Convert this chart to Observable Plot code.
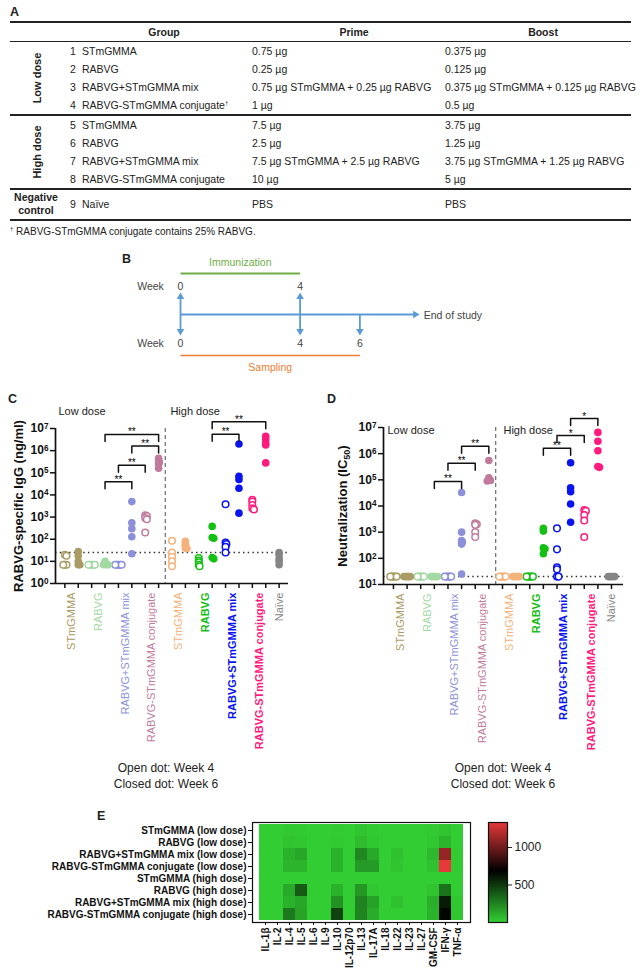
<!DOCTYPE html>
<html><head><meta charset="utf-8">
<script src="https://cdn.jsdelivr.net/npm/d3@7"></script>
<script src="https://cdn.jsdelivr.net/npm/@observablehq/plot@0.6"></script>
<style>
html,body{margin:0;padding:0;background:#fff;}
#fig{position:relative;width:640px;height:977px;overflow:hidden;font-family:"Liberation Sans",Arial,Helvetica,sans-serif;color:#222;}
.t{position:absolute;white-space:nowrap;line-height:1;}
.r{position:absolute;background:#222;left:10px;width:621px;}
.p{position:absolute;}
.p svg{overflow:visible;display:block;}
</style></head><body><div id="fig"></div>
<script>
// ================= DATA =================
// Panel A – study design table
const tableHeader = ["Group", "Prime", "Boost"];
const tableNumbers = [1, 2, 3, 4, 5, 6, 7, 8, 9];
const tableGroups = ["STmGMMA", "RABVG", "RABVG+STmGMMA mix", "RABVG-STmGMMA conjugate", "STmGMMA", "RABVG", "RABVG+STmGMMA mix", "RABVG-STmGMMA conjugate", "Naïve"];
const tablePrime = ["0.75 µg", "0.25 µg", "0.75 µg STmGMMA + 0.25 µg RABVG", "1 µg", "7.5 µg", "2.5 µg", "7.5 µg STmGMMA + 2.5 µg RABVG", "10 µg", "PBS"];
const tableBoost = ["0.375 µg", "0.125 µg", "0.375 µg STmGMMA + 0.125 µg RABVG", "0.5 µg", "3.75 µg", "1.25 µg", "3.75 µg STmGMMA + 1.25 µg RABVG", "5 µg", "PBS"];
const tableSections = ["Low dose", "High dose", "Negative control"];
const footnote = "RABVG-STmGMMA conjugate contains 25% RABVG.";

// Panel B – timeline (weeks)
const immunizationWeeks = [0, 4];
const samplingWeeks = [0, 4, 6];
const endOfStudyWeek = 8;

// Panels C & D – groups (9) ; week-4 (open) values for groups 1-8, week-6 (closed) for groups 1-9
const dotGroups = ["STmGMMA", "RABVG", "RABVG+STmGMMA mix", "RABVG-STmGMMA conjugate", "STmGMMA", "RABVG", "RABVG+STmGMMA mix", "RABVG-STmGMMA conjugate", "Naïve"];
const doseLabels = ["Low dose", "High dose"];
const legendLines = ["Open dot: Week 4", "Closed dot: Week 6"];

const iggWeek4 = [
  [20, 18, 7, 7, 7],
  [7, 7, 7, 7, 7],
  [7, 7, 7, 7, 7],
  [1200, 1100, 900, 800, 200],
  [85, 25, 16, 10, 6],
  [14, 11, 9, 7, 6],
  [3800, 70, 60, 45, 25],
  [6000, 5000, 3500, 2500, 2200]
];
const iggWeek6 = [
  [28, 18, 10, 7, 7],
  [10, 8, 7, 7, 7],
  [5000, 550, 300, 130, 22],
  [450000, 350000, 300000, 250000, 160000],
  [80, 60, 50, 40, 38],
  [380, 120, 110, 15, 13],
  [2000000, 70000, 50000, 20000, 1500],
  [4500000, 3200000, 2200000, 1800000, 280000],
  [25, 20, 13, 10, 7]
];
const iggLOD = 25;
const iggBrackets = [
  {from: [1, 6], to: [3, 6], level: 5.4e6, mark: "**"},
  {from: [2, 6], to: [3, 6], level: 1.6e6, mark: "**"},
  {from: [2, 4], to: [3, 4], level: 2.2e5, mark: "**"},
  {from: [1, 6], to: [2, 6], level: 3.9e4, mark: "**"},
  {from: [5, 6], to: [7, 6], level: 2.0e7, mark: "**"},
  {from: [5, 6], to: [6, 6], level: 5.5e6, mark: "**"}
];

const neutWeek4 = [
  [20, 20, 20, 20, 20],
  [20, 20, 20, 20, 20],
  [20, 20, 20, 20, 20],
  [2200, 2000, 1900, 1000, 650],
  [20, 20, 20, 20, 20],
  [20, 20, 20, 20, 20],
  [1400, 220, 45, 38, 20, 20],
  [7000, 6500, 4500, 2800, 650]
];
const neutWeek6 = [
  [20, 20, 20, 20, 20],
  [20, 20, 20, 20, 20],
  [33000, 1000, 480, 420, 350, 25],
  [550000, 120000, 100000, 95000, 90000],
  [20, 20, 20, 20, 20],
  [1400, 1100, 250, 230, 150],
  [450000, 50000, 35000, 12000, 2400],
  [6500000, 3000000, 1300000, 320000, 300000],
  [20, 20, 20, 20, 20]
];
const neutLOD = 20;
const neutBrackets = [
  {from: [2, 6], to: [3, 6], level: 1.9e6, mark: "**"},
  {from: [2, 4], to: [3, 4], level: 4.3e5, mark: "**"},
  {from: [1, 6], to: [2, 6], level: 8.7e4, mark: "**"},
  {from: [6, 6], to: [7, 6], level: 2.2e7, mark: "*"},
  {from: [6, 4], to: [7, 4], level: 4.9e6, mark: "*"},
  {from: [5, 6], to: [6, 6], level: 1.6e6, mark: "**"}
];

// Panel E – cytokine heatmap
const cytokines = ["IL-1β", "IL-2", "IL-4", "IL-5", "IL-6", "IL-9", "IL-10", "IL-12p70", "IL-13", "IL-17A", "IL-18", "IL-22", "IL-23", "IL-27", "GM-CSF", "IFN-γ", "TNF-α"];
const heatRows = ["STmGMMA (low dose)", "RABVG (low dose)", "RABVG+STmGMMA mix (low dose)", "RABVG-STmGMMA conjugate (low dose)", "STmGMMA (high dose)", "RABVG (high dose)", "RABVG+STmGMMA mix (high dose)", "RABVG-STmGMMA conjugate (high dose)"];
const cytokineLevels = [
  [0, 0, 15, 10, 0, 0, 5, 0, 25, 10, 0, 0, 0, 0, 10, 30, 0],
  [0, 0, 30, 20, 0, 0, 10, 0, 60, 20, 0, 0, 0, 0, 20, 80, 0],
  [0, 0, 90, 130, 0, 0, 90, 0, 230, 120, 0, 40, 0, 0, 70, 1100, 10],
  [0, 0, 80, 80, 0, 0, 90, 0, 170, 170, 0, 30, 0, 0, 40, 1330, 10],
  [0, 0, 0, 0, 0, 0, 0, 0, 0, 0, 0, 0, 0, 0, 0, 0, 0],
  [0, 0, 120, 380, 0, 0, 90, 0, 180, 20, 0, 0, 0, 0, 30, 300, 0],
  [0, 0, 90, 130, 0, 0, 200, 0, 250, 150, 0, 40, 0, 0, 100, 590, 20],
  [0, 0, 280, 140, 0, 0, 460, 0, 240, 110, 0, 0, 0, 0, 90, 660, 20]
];
const colorbarDomain = [0, 680, 1333];
const colorbarTicks = [500, 1000];

// ================= STYLE CONSTANTS =================
const FONT = '"Liberation Sans", Arial, Helvetica, sans-serif';
const groupColors = ["#a99b64", "#a3d9a3", "#8c90d8", "#c07b9c", "#f4b27a", "#14c014", "#0a14f0", "#ff1a7e", "#858585"];
const heatColors = ["#32cd32", "#000000", "#e8393a"];
const fig = document.getElementById("fig");
const SVGNS = "http://www.w3.org/2000/svg";

function put(html, x, y, o = {}) {
  const d = document.createElement("div");
  d.className = "t";
  d.innerHTML = html;
  const ax = o.anchor === "middle" ? "-50%" : o.anchor === "end" ? "-100%" : "0";
  d.style.left = x + "px";
  d.style.top = y + "px";
  d.style.fontSize = (o.size || 10.5) + "px";
  d.style.fontWeight = o.weight || "normal";
  if (o.color) d.style.color = o.color;
  if (o.lh) d.style.lineHeight = o.lh;
  if (o.align) d.style.textAlign = o.align;
  d.style.transform = `translate(${ax},-50%)` + (o.rotate ? ` rotate(${o.rotate}deg)` : "");
  fig.appendChild(d);
  return d;
}
function rule(y, h) {
  const d = document.createElement("div");
  d.className = "r";
  d.style.top = (y - h / 2) + "px";
  d.style.height = h + "px";
  fig.appendChild(d);
}
function place(svg, x, y, w) {
  const d = document.createElement("div");
  d.className = "p";
  d.style.left = x + "px";
  d.style.top = y + "px";
  d.style.width = w + "px";
  d.appendChild(svg);
  fig.appendChild(d);
}

// ================= PANEL LETTERS =================
put("A", 10, 12, {size: 12.5, weight: "bold"});
put("B", 122, 259, {size: 12.5, weight: "bold"});
put("C", 8, 399, {size: 12.5, weight: "bold"});
put("D", 327, 399, {size: 12.5, weight: "bold"});
put("E", 97, 816, {size: 12.5, weight: "bold"});

// ================= PANEL A =================
const headerX = [164, 354, 543];
tableHeader.forEach((h, i) => put(h, headerX[i], 32, {anchor: "middle", weight: "bold"}));
rule(22, 1.6); rule(41.5, 1); rule(115, 1.2); rule(189, 2.4); rule(220, 1.6);
const rowY = [51, 69, 87, 105, 125, 143, 161, 179, 204];
tableNumbers.forEach((n, i) => {
  put(String(n), 70, rowY[i]);
  put(tableGroups[i] + (i === 3 ? '<sup style="font-size:6px;vertical-align:4px">†</sup>' : ""), 82, rowY[i]);
  put(tablePrime[i], 252, rowY[i]);
  put(tableBoost[i], 445, rowY[i]);
});
put(tableSections[0], 37, 78, {anchor: "middle", weight: "bold", rotate: -90, size: 11});
put(tableSections[1], 37, 152, {anchor: "middle", weight: "bold", rotate: -90, size: 11});
put("Negative<br>control", 36, 204, {anchor: "middle", weight: "bold", lh: "1.2", align: "center"});
put('<sup style="font-size:6px;vertical-align:4px">†</sup> ' + footnote, 10, 231, {size: 10});

// ================= PANEL B =================
{
  const blue = "#5b9bd5", green = "#70ad47", orange = "#ed7d31";
  const lane = {imm: 12, immLine: 23, wk1: 36, upTip: 42, axis: 64, downTip: 85, wk2: 93, sampLine: 105, samp: 117};
  const tipOff = 4.4;
  const B = Plot.plot({
    width: 640, height: 125, margin: 0,
    x: {domain: [0, endOfStudyWeek], range: [180, 180 + endOfStudyWeek * 29.9], axis: null},
    y: {domain: [0, 125], range: [0, 125], axis: null},
    style: {fontFamily: FONT, fontSize: "10.5px", color: "#333", overflow: "visible", background: "transparent", maxWidth: "none"},
    marks: [
      Plot.text(["Immunization"], {x: () => d3.mean(immunizationWeeks), y: () => lane.imm, text: d => d, fill: green, fontSize: 10.5}),
      Plot.link([immunizationWeeks], {x1: d => d[0], x2: d => d[1], y1: () => lane.immLine, y2: () => lane.immLine, stroke: green, strokeWidth: 2}),
      Plot.text(["Week"], {x: () => 0, dx: -30, y: () => lane.wk1, text: d => d, fill: "#444"}),
      Plot.text(immunizationWeeks, {x: d => d, y: () => lane.wk1, text: d => String(d), fill: "#444"}),
      Plot.ruleX(immunizationWeeks, {x: d => d, y1: () => lane.axis, y2: () => lane.upTip + tipOff, stroke: blue, strokeWidth: 1.8}),
      Plot.dot(immunizationWeeks, {x: d => d, y: () => lane.upTip, dy: tipOff, symbol: "triangle", r: 2.8, fill: blue}),
      Plot.link([0], {x1: () => 0, x2: () => endOfStudyWeek - 0.1, y1: () => lane.axis, y2: () => lane.axis, stroke: blue, strokeWidth: 1.8}),
      Plot.dot([endOfStudyWeek], {x: d => d, y: () => lane.axis, dx: -tipOff, rotate: 90, symbol: "triangle", r: 2.8, fill: blue}),
      Plot.text(["End of study"], {x: () => endOfStudyWeek, dx: 4, y: () => lane.axis + 1, text: d => d, textAnchor: "start", fill: "#444"}),
      Plot.ruleX(samplingWeeks, {x: d => d, y1: () => lane.axis, y2: () => lane.downTip - tipOff, stroke: blue, strokeWidth: 1.8}),
      Plot.dot(samplingWeeks, {x: d => d, y: () => lane.downTip, dy: -tipOff, rotate: 180, symbol: "triangle", r: 2.8, fill: blue}),
      Plot.text(["Week"], {x: () => 0, dx: -30, y: () => lane.wk2, text: d => d, fill: "#444"}),
      Plot.text(samplingWeeks, {x: d => d, y: () => lane.wk2, text: d => String(d), fill: "#444"}),
      Plot.link([samplingWeeks], {x1: d => d[0], x2: d => d[d.length - 1], y1: () => lane.sampLine, y2: () => lane.sampLine, stroke: orange, strokeWidth: 1.6}),
      Plot.text(["Sampling"], {x: () => d3.mean(d3.extent(samplingWeeks)), y: () => lane.samp, text: d => d, fill: orange, fontSize: 10.5})
    ]
  });
  place(B, 0, 250, 640);
}

// ================= PANELS C & D =================
function supTicks(svg) {
  svg.querySelectorAll('[aria-label="y-axis tick label"] text').forEach(t => {
    const s = t.textContent, i = s.indexOf("^");
    if (i < 0) return;
    t.textContent = s.slice(0, i);
    const ts = document.createElementNS(SVGNS, "tspan");
    ts.setAttribute("dy", "-0.45em");
    ts.setAttribute("font-size", "0.68em");
    ts.textContent = s.slice(i + 1);
    t.appendChild(ts);
  });
}
function dotPanel(cfg) {
  const col = (g, w) => g < 8 ? 2 * g + (w === 4 ? 0 : 1) : 16;
  const rows = [];
  cfg.w4.forEach((vals, g) => vals.forEach(v => rows.push({g, week: 4, col: col(g, 4), value: v})));
  cfg.w6.forEach((vals, g) => vals.forEach(v => rows.push({g, week: 6, col: col(g, 6), value: v})));
  const innerW = cfg.width - cfg.ml - cfg.mr, innerH = cfg.height - cfg.mt - cfg.mb;
  const colPx = innerW / (cfg.xdom[1] - cfg.xdom[0]);
  const ppd = innerH / Math.log10(cfg.ydom[1] / cfg.ydom[0]);
  for (const pts of d3.group(rows, d => d.col).values()) {
    const placed = [];
    pts.sort((a, b) => b.value - a.value).forEach(p => {
      const py = Math.log10(p.value) * ppd;
      let off = 0;
      for (let k = 0; k < 60; k++) {
        const c = (k % 2 ? 1 : -1) * Math.ceil(k / 2) * 0.8;
        if (placed.every(q => Math.hypot(q.off - c, q.py - py) >= 1.6)) { off = c; break; }
      }
      placed.push({off, py});
      p.xpos = p.col + off / colPx;
    });
  }
  const legF = 10 ** (7 / ppd);
  const br = cfg.brackets.map((b, i) => ({i, x1: col(...b.from), x2: col(...b.to), level: b.level, mark: b.mark}));
  const brPath = br.flatMap(b => [
    {i: b.i, x: b.x1, y: b.level / legF}, {i: b.i, x: b.x1, y: b.level},
    {i: b.i, x: b.x2, y: b.level}, {i: b.i, x: b.x2, y: b.level / legF}]);
  const labels = dotGroups.map((name, g) => ({g, name, x: g < 8 ? 2 * g + 0.5 : 16, bold: g >= 5 && g <= 7}));
  const doses = doseLabels.map((t, i) => ({t, x: cfg.doseX[i]}));
  const labelOpts = {x: "x", text: "name", fill: "g", frameAnchor: "bottom", rotate: -90, textAnchor: "end", lineAnchor: "middle", dy: 9, fontSize: 11};
  const svg = Plot.plot({
    width: cfg.width, height: cfg.height,
    marginLeft: cfg.ml, marginRight: cfg.mr, marginTop: cfg.mt, marginBottom: cfg.mb,
    x: {domain: cfg.xdom},
    y: {type: "log", domain: cfg.ydom},
    color: {type: "ordinal", domain: d3.range(9), range: groupColors},
    style: {fontFamily: FONT, fontSize: "11px", color: "#111", overflow: "visible", background: "transparent", maxWidth: "none"},
    marks: [
      Plot.ruleY([cfg.lod], {stroke: "#333", strokeWidth: 1.5, strokeDasharray: "1.5,3.2"}),
      Plot.ruleX([7.5], {stroke: "#777", strokeWidth: 1.3, strokeDasharray: "4,3"}),
      Plot.axisY({ticks: cfg.ticks, tickFormat: d => "10^" + Math.round(Math.log10(d)), tickSize: 5, tickPadding: 2, fontSize: 12, fontWeight: "bold", strokeWidth: 1.5, label: null}),
      Plot.axisX({ticks: d3.range(17), tickFormat: () => "", tickSize: 5, strokeWidth: 1.5, label: null}),
      Plot.ruleX([cfg.xdom[0]], {strokeWidth: 1.7, stroke: "#111"}),
      Plot.ruleY([cfg.ydom[0]], {strokeWidth: 1.7, stroke: "#111"}),
      Plot.dot(rows.filter(d => d.week === 4), {x: "xpos", y: "value", r: 3.3, stroke: "g", fill: "white", strokeWidth: 1.5}),
      Plot.dot(rows.filter(d => d.week === 6), {x: "xpos", y: "value", r: 3.8, fill: "g"}),
      Plot.line(brPath, {x: "x", y: "y", z: "i", stroke: "#111", strokeWidth: 1.5}),
      Plot.text(br, {x: d => (d.x1 + d.x2) / 2, y: "level", text: "mark", lineAnchor: "bottom", dy: 1, fontSize: 10, fill: "#000"}),
      Plot.text(labels.filter(d => !d.bold), labelOpts),
      Plot.text(labels.filter(d => d.bold), {...labelOpts, fontWeight: "bold"}),
      Plot.text(doses, {x: "x", text: "t", frameAnchor: "top", dy: cfg.doseDy, textAnchor: "start", lineAnchor: "middle", fontSize: 11, fill: "#222"}),
      Plot.text([cfg.ylabel], {text: d => d, frameAnchor: "left", textAnchor: "middle", lineAnchor: "middle", dx: cfg.titleDx, rotate: -90, fontWeight: "bold", fontSize: 13, fill: "#111"})
    ]
  });
  supTicks(svg);
  return svg;
}

const C = dotPanel({
  w4: iggWeek4, w6: iggWeek6, lod: iggLOD, brackets: iggBrackets,
  width: 300, height: 358, ml: 55, mr: 12, mt: 28, mb: 175,
  xdom: [-0.7, 16.7], ydom: [1, 1e7], ticks: [1, 10, 100, 1e3, 1e4, 1e5, 1e6, 1e7],
  doseX: [-0.48, 7.88], doseDy: -17, ylabel: "RABVG-specific IgG (ng/ml)", titleDx: -37
});
place(C, 0, 400, 300);

const D = dotPanel({
  w4: neutWeek4, w6: neutWeek6, lod: neutLOD, brackets: neutBrackets,
  width: 320, height: 355, ml: 63, mr: 17, mt: 27, mb: 171,
  xdom: [-0.73, 16.88], ydom: [10, 1e7], ticks: [10, 100, 1e3, 1e4, 1e5, 1e6, 1e7],
  doseX: [-0.44, 8.07], doseDy: 3, ylabel: "Neutralization (IC50)", titleDx: -41
});
D.querySelectorAll("text").forEach(t => {
  if (t.textContent === "Neutralization (IC50)") {
    t.textContent = "Neutralization (IC";
    const s = document.createElementNS(SVGNS, "tspan");
    s.setAttribute("dy", "3"); s.setAttribute("font-size", "9"); s.textContent = "50";
    const e = document.createElementNS(SVGNS, "tspan");
    e.setAttribute("dy", "-3"); e.textContent = ")";
    t.appendChild(s); t.appendChild(e);
  }
});
place(D, 320, 400, 320);

legendLines.forEach((l, i) => {
  put(l, 166, 768 + i * 15.5, {anchor: "middle", size: 12, color: "#222"});
  put(l, 503, 768 + i * 15.5, {anchor: "middle", size: 12, color: "#222"});
});

// ================= PANEL E =================
{
  const heat = [];
  heatRows.forEach((r, i) => cytokines.forEach((c, j) => heat.push({row: r, cyt: c, v: cytokineLevels[i][j]})));
  const colorScale = {type: "linear", domain: colorbarDomain, range: heatColors, clamp: true};
  const E = Plot.plot({
    width: 471, height: 165, marginLeft: 252, marginRight: 1, marginTop: 10, marginBottom: 55,
    x: {domain: cytokines, padding: 0},
    y: {domain: heatRows, padding: 0},
    color: colorScale,
    style: {fontFamily: FONT, fontSize: "10px", color: "#111", overflow: "visible", background: "transparent", maxWidth: "none"},
    marks: [
      Plot.cell(heat, {x: "cyt", y: "row", fill: "v", inset: 0, shapeRendering: "crispEdges"}),
      Plot.frame({stroke: "#111", strokeWidth: 1.2}),
      Plot.axisX({tickRotate: -90, tickSize: 3, tickPadding: 2, fontWeight: "bold", fontSize: 10, label: null}),
      Plot.axisY({tickSize: 4, tickPadding: 2, fontWeight: "bold", fontSize: 10, label: null})
    ]
  });
  place(E, 0, 812, 471);

  const bar = Plot.plot({
    width: 80, height: 122, marginLeft: 8, marginRight: 53, marginTop: 10, marginBottom: 12,
    x: {domain: [0, 1], axis: null},
    y: {domain: [0, colorbarDomain[2]]},
    color: colorScale,
    style: {fontFamily: FONT, fontSize: "12px", color: "#222", overflow: "visible", background: "transparent", maxWidth: "none"},
    marks: [
      Plot.rect(d3.range(0, colorbarDomain[2], 4), {x1: () => 0, x2: () => 1, y1: d => d, y2: d => Math.min(d + 4.5, colorbarDomain[2]), fill: d => d, shapeRendering: "crispEdges"}),
      Plot.frame({stroke: "#111", strokeWidth: 1.2}),
      Plot.axisY({anchor: "right", ticks: colorbarTicks, tickFormat: d => String(d), tickSize: 4, tickPadding: 3, fontSize: 12, label: null})
    ]
  });
  place(bar, 480, 812, 80);
}
</script></body></html>
